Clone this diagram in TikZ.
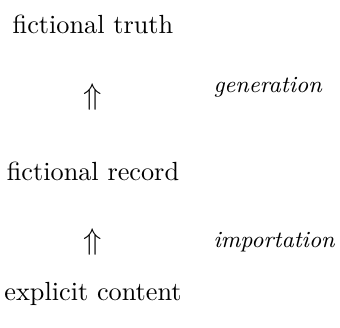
\documentclass[tikz,border=0pt]{standalone}
\begin{document}
\begin{tikzpicture}[x=0.4pt, y=-0.4pt,
  stage/.style={anchor=base, inner sep=0pt, font=\fontsize{10.5}{12}\selectfont},
  process/.style={anchor=base west, inner sep=0pt, font=\fontsize{9.3}{11}\selectfont\itshape},
  uparr/.style={anchor=center, inner sep=0pt, font=\fontsize{12}{14}\selectfont}]
  \useasboundingbox (0, 0) rectangle (340, 327);

  % Stages
  \node[stage] (truth) at (93, 33) {fictional truth};
  \node[stage] (record) at (93, 180) {fictional record};
  \node[stage] (content) at (93, 300) {explicit content};

  % Arrows between stages
  \node[uparr] (arrgen) at (93, 97) {$\Uparrow$};
  \node[uparr] (arrimp) at (93, 242) {$\Uparrow$};

  % Processes
  \node[process] (generation) at (213, 92) {generation};
  \node[process] (importation) at (213, 247) {importation};
\end{tikzpicture}
\end{document}
